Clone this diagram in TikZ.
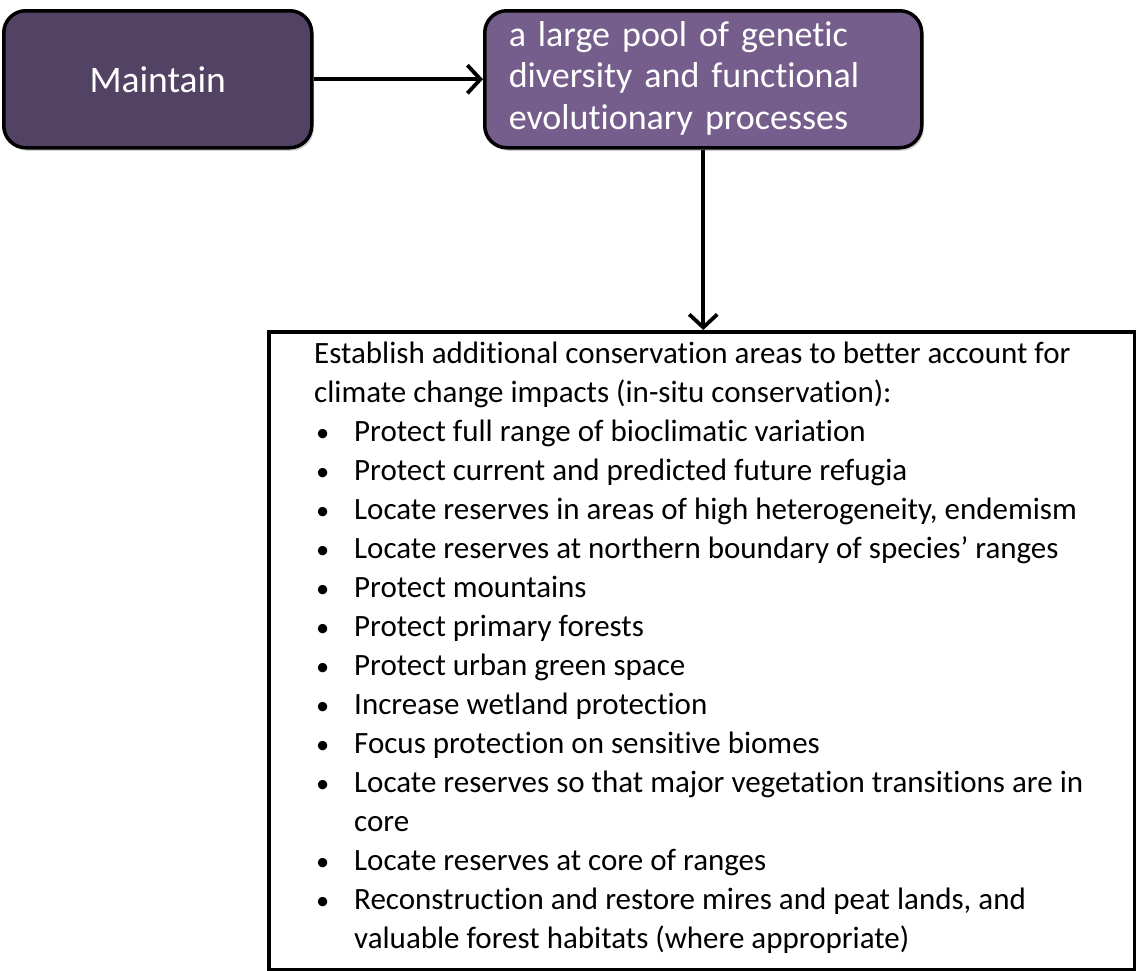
\documentclass[tikz,border=0pt]{standalone}
\usepackage{fontspec}
\setmainfont{Carlito}[Ligatures=NoCommon]
\usetikzlibrary{arrows.meta,shadows}
\definecolor{darkpurple}{RGB}{82,66,99}
\definecolor{midpurple}{RGB}{118,94,140}
\newcommand{\bul}{\hspace{2pt}\scalebox{0.85}{•}}
\begin{document}
\begin{tikzpicture}[x=1pt,y=-1pt,
  pbox/.style={draw=black, line width=3.5pt, rounded corners=22pt, text=white,
    drop shadow={shadow xshift=2pt, shadow yshift=-3pt, fill=black!35, opacity=0.5}},
  conn/.style={line width=3.8pt, -{Straight Barb[length=13pt,width=28pt,line width=3.8pt]}}
]
\useasboundingbox (0,0) rectangle (1136,970);
\node[pbox, fill=darkpurple, minimum width=308pt, minimum height=137pt, anchor=north west,
  font=\fontsize{37.5}{41}\selectfont] (box1) at (2,9) {Maintain};
\node[pbox, fill=midpurple, minimum width=437pt, minimum height=137pt, anchor=north west,
  font=\fontsize{36}{41.5}\selectfont, text width=389pt, inner xsep=24pt, inner ysep=0pt] (box2) at (483,9)
  {\begin{tabular}{@{}l@{}}a large pool of genetic\\diversity and functional\\evolutionary processes\end{tabular}};
\node[draw=black, line width=3.5pt, anchor=north west, minimum width=866pt, minimum height=638pt, inner sep=0pt] (box3) at (267,330) {};
\node[anchor=north west, inner sep=0pt, font=\fontsize{31}{39}\selectfont] (txt) at (314,336) {%
\begin{tabular}{@{}p{40pt}@{}l@{}}
\multicolumn{2}{@{}l@{}}{Establish additional conservation areas to better account for}\\
\multicolumn{2}{@{}l@{}}{climate change impacts (in-situ conservation):}\\
\bul & Protect full range of bioclimatic variation\\
\bul & Protect current and predicted future refugia\\
\bul & Locate reserves in areas of high heterogeneity, endemism\\
\bul & Locate reserves at northern boundary of species’ ranges\\
\bul & Protect mountains\\
\bul & Protect primary forests\\
\bul & Protect urban green space\\
\bul & Increase wetland protection\\
\bul & Focus protection on sensitive biomes\\
\bul & Locate reserves so that major vegetation transitions are in\\
 & core\\
\bul & Locate reserves at core of ranges\\
\bul & Reconstruction and restore mires and peat lands, and\\
 & valuable forest habitats (where appropriate)
\end{tabular}};
\draw[conn] (box1.east) -- (box2.west);
\draw[conn] (box2.south) -- (box2.south |- box3.north);
\end{tikzpicture}
\end{document}
